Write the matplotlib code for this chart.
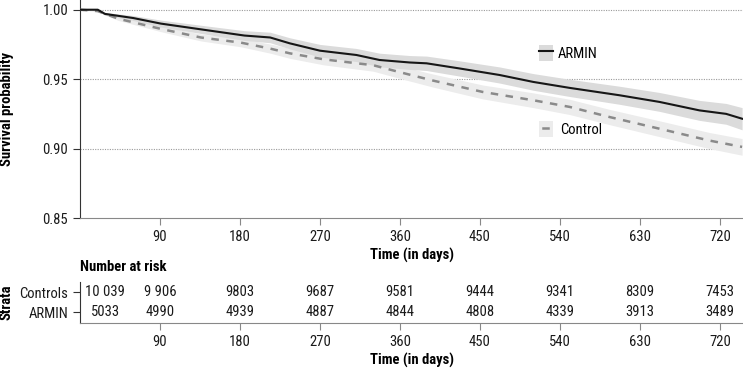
import matplotlib
matplotlib.use("Agg")
import matplotlib.pyplot as plt
from matplotlib.patches import Patch
from matplotlib.lines import Line2D

plt.rcParams['font.family'] = ['Liberation Sans Narrow', 'Roboto Condensed', 'Archivo Narrow',
                               'DejaVu Sans']
plt.rcParams['font.size'] = 10

# Kaplan-Meier curves
armin_days = [0, 20, 28, 60, 91, 140, 185, 214, 236, 270, 311, 337, 371, 390, 427,
              472, 510, 551, 607, 652, 697, 727, 745]
armin_surv = [1.000, 1.000, 0.997, 0.994, 0.990, 0.9855, 0.9814, 0.980, 0.9758, 0.9705,
              0.9674, 0.9638, 0.962, 0.9614, 0.9577, 0.953, 0.948, 0.9437, 0.9384,
              0.9336, 0.9275, 0.925, 0.9215]
armin_ci = [0.0, 0.0005, 0.001, 0.0018, 0.0025, 0.003, 0.0035, 0.0038, 0.004, 0.0045,
            0.0047, 0.0049, 0.005, 0.0052, 0.0055, 0.0058, 0.006, 0.0062, 0.0065,
            0.0068, 0.0072, 0.0075, 0.008]

control_days = [0, 20, 43, 91, 136, 181, 214, 236, 274, 330, 360, 397, 453, 510, 551,
                596, 652, 708, 745]
control_surv = [1.000, 0.999, 0.9935, 0.9862, 0.980, 0.9763, 0.972, 0.9686, 0.9643,
                0.960, 0.955, 0.949, 0.9408, 0.9348, 0.930, 0.9227, 0.9143, 0.9058,
                0.9012]
control_ci = [0.0, 0.0005, 0.0012, 0.002, 0.0025, 0.003, 0.0033, 0.0036, 0.004, 0.0043,
              0.0045, 0.0047, 0.005, 0.0053, 0.0055, 0.0055, 0.0057, 0.0058, 0.006]

# Number at risk table
risk_days = [0, 90, 180, 270, 360, 450, 540, 630, 720]
risk_controls = ['10 039', '9 906', '9803', '9687', '9581', '9444', '9341', '8309', '7453']
risk_armin = ['5033', '4990', '4939', '4887', '4844', '4808', '4339', '3913', '3489']
strata = ['ARMIN', 'Controls']
xticks = [90, 180, 270, 360, 450, 540, 630, 720]
yticks = [0.85, 0.90, 0.95, 1.00]

FS = 10.5

fig = plt.figure(figsize=(7.43, 3.69), dpi=100)
ax = fig.add_axes([80 / 743, 1 - 218 / 369, 663 / 743, 218 / 369])
ax2 = fig.add_axes([80 / 743, 1 - 323 / 369, 663 / 743, 41 / 369])

# bands first, lines on top
lo = [s - c for s, c in zip(armin_surv, armin_ci)]
hi = [s + c for s, c in zip(armin_surv, armin_ci)]
ax.fill_between(armin_days, lo, hi, color='#dbdbdb', lw=0, zorder=2)
lo = [s - c for s, c in zip(control_surv, control_ci)]
hi = [s + c for s, c in zip(control_surv, control_ci)]
ax.fill_between(control_days, lo, hi, color='#ececec', lw=0, zorder=1)

ax.plot(armin_days, armin_surv, color='#161616', lw=1.5, zorder=4)
ax.plot(control_days, control_surv, color='#8a8a8a', lw=1.8, ls=(0, (3, 3)), zorder=3)

ax.set_xlim(0, 746)
ax.set_ylim(0.85, 1.007)
ax.set_xticks(xticks)
ax.set_yticks(yticks)
ax.set_yticklabels(['%.2f' % v for v in yticks])
for v in yticks[1:]:
    ax.axhline(v, color='#9a9a9a', lw=0.8, ls=(0, (1, 1.2)), zorder=0)
ax.spines['top'].set_visible(False)
ax.spines['right'].set_visible(False)
ax.spines['left'].set_color('#333333')
ax.spines['bottom'].set_color('#888888')
ax.tick_params(direction='out', length=5, colors='#333333', labelsize=FS,
               labelcolor='#1a1a1a')
ax.tick_params(axis='x', colors='#888888', labelcolor='#1a1a1a')
ax.set_xlabel('Time (in days)', fontweight='bold', fontsize=FS, labelpad=3)
ax.set_ylabel('Survival probability', fontweight='bold', fontsize=FS)
ax.yaxis.set_label_coords((14 - 80) / 663, 0.5)

# two separate legend keys, like the original
h_armin = (Patch(facecolor='#dbdbdb', edgecolor='none'),
           Line2D([], [], color='#161616', lw=1.5))
h_ctrl = (Patch(facecolor='#ececec', edgecolor='none'),
          Line2D([], [], color='#8a8a8a', lw=1.8, ls=(4.9, (3, 3))))
leg1 = ax.legend([h_armin], ['ARMIN'], loc='center left', bbox_to_anchor=(0.682, 0.757),
                 frameon=False, handlelength=0.9, handleheight=1.3, handletextpad=0.35,
                 borderpad=0, fontsize=FS)
ax.add_artist(leg1)
ax.legend([h_ctrl], ['Control'], loc='center left', bbox_to_anchor=(0.682, 0.408),
          frameon=False, handlelength=0.9, handleheight=1.3, handletextpad=0.55,
          borderpad=0, fontsize=FS)

# risk table
for d, c, a in zip(risk_days, risk_controls, risk_armin):
    off = 18 if d == 0 else 0
    ax2.annotate(c, (d, 2), xytext=(off, 0), textcoords='offset points',
                 ha='center', va='center', fontsize=FS, color='#1a1a1a')
    ax2.annotate(a, (d, 1), xytext=(off, 0), textcoords='offset points',
                 ha='center', va='center', fontsize=FS, color='#1a1a1a')
ax2.set_xlim(0, 746)
ax2.set_ylim(0.45, 2.5)
ax2.set_xticks(xticks)
ax2.set_yticks([1, 2])
ax2.set_yticklabels(strata)
ax2.spines['top'].set_visible(False)
ax2.spines['right'].set_visible(False)
ax2.spines['left'].set_color('#333333')
ax2.spines['bottom'].set_color('#888888')
ax2.tick_params(direction='out', length=5, colors='#333333', labelsize=FS,
                labelcolor='#1a1a1a')
ax2.tick_params(axis='x', colors='#888888', labelcolor='#1a1a1a')
ax2.set_xlabel('Time (in days)', fontweight='bold', fontsize=FS, labelpad=3)
ax2.set_ylabel('Strata', fontweight='bold', fontsize=FS)
ax2.yaxis.set_label_coords((14 - 80) / 663, 0.5)
ax2.set_title('Number at risk', loc='left', fontweight='bold', fontsize=FS, pad=8)

fig.savefig('out.png', dpi=100)
